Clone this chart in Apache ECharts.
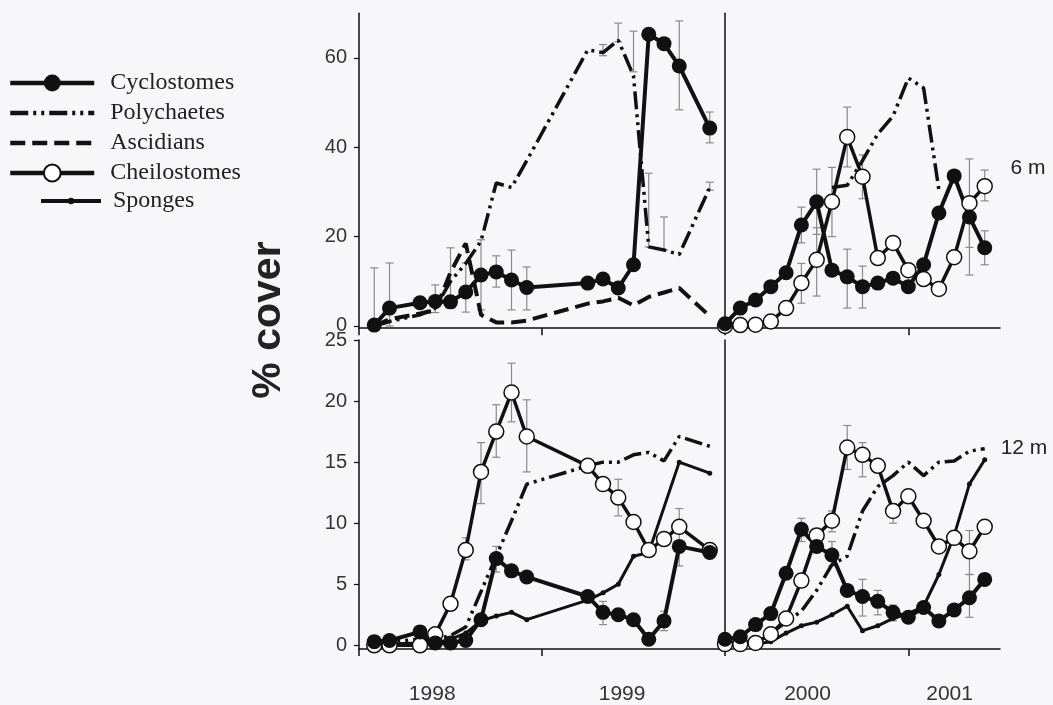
<!DOCTYPE html>
<html>
<head>
<meta charset="utf-8">
<script src="https://cdn.jsdelivr.net/npm/echarts@6/dist/echarts.min.js"></script>
<style>
  html, body { margin: 0; background: #f7f7f9; }
  #chart { width: 1053px; height: 705px; }
</style>
</head>
<body>
<div id="chart"></div>
<script>
// x = months since January of the first year of each panel
const yearLabelsLeft = ["1998", "1999"]
const yearLabelsRight = ["2000", "2001"]
const yearLabelPosLeft = [4.8, 17.25]
const yearLabelPosRight = [5.4, 14.7]
const ticks6m = [0, 20, 40, 60]
const ticks12m = [0, 5, 10, 15, 20, 25]
const depthLabels = ["6 m", "12 m"]

// 6 m, 1998-99
const cycloTL = [[1,0.2],[2,4.0],[4,5.2],[5,5.5],[6,5.4],[7,7.6],[8,11.4],[9,12.1],[10,10.3],[11,8.6],[15,9.6],[16,10.5],[17,8.5],[18,13.7],[19,65.3],[20,63.2],[21,58.2],[23,44.3]]
const polyTL = [[1,0],[2,1],[4,2.5],[5,4],[6,10],[7,14],[8,19],[9,32],[10,31],[11,37],[15,61.8],[16,61.2],[17,64],[18,56],[19,17.7],[20,17],[21,16],[23,31]]
const ascTL = [[1,0],[2,1.5],[4,2.8],[5,3.5],[6,12],[7,18.5],[8,2.5],[9,0.8],[10,0.8],[11,1.2],[15,5.0],[16,5.5],[17,6.3],[18,4.6],[19,6.5],[20,7.5],[21,8.5],[23,2.2]]
const errTL = [[1,0,13],[2,0,14.1],[5,3,9.2],[6,4,17.5],[7,3.1,14.1],[8,3.6,19.3],[9,8.7,15.7],[10,3.6,17],[11,3.6,13.2],[16,60.5,63],[17,63.6,67.8],[18,56.9,66],[19,17.7,34.2],[20,17,24.4],[21,48.4,68.3],[23,41,47.9],[23,30.4,32.2]]

// 6 m, 2000-01
const cycloTR = [[0,0.5],[1,4.0],[2,5.8],[3,8.8],[4,11.9],[5,22.6],[6,27.8],[7,12.5],[8,11.0],[9,8.8],[10,9.6],[11,10.7],[12,8.8],[13,13.7],[14,25.3],[15,33.6],[16,24.4],[17,17.5]]
const polyTR = [[7,31],[8,31.5],[9,37],[10,43],[11,47],[12,55.5],[13,53.3],[14,30.5]]
const cheiloTR = [[0,0],[1,0.2],[2,0.3],[3,1.0],[4,4.0],[5,9.6],[6,14.8],[7,27.8],[8,42.3],[9,33.4],[10,15.2],[11,18.6],[12,12.5],[13,10.5],[14,8.3],[15,15.4],[16,27.5],[17,31.3]]
const errTR = [[5,18.6,26.6],[5,5.1,14],[6,20.5,35.1],[6,6.7,22],[7,20,35.5],[8,35.6,49],[8,4,17.2],[9,28.5,38.3],[9,4,13.4],[16,17.6,37.4],[16,11.4,27],[17,28,34.9],[17,13.7,21.3]]

// 12 m, 1998-99
const cycloBL = [[1,0.3],[2,0.4],[4,1.1],[5,0.2],[6,0.2],[7,0.4],[8,2.1],[9,7.1],[10,6.1],[11,5.6],[15,4.0],[16,2.7],[17,2.5],[18,2.1],[19,0.5],[20,2.0],[21,8.1],[23,7.6]]
const polyBL = [[1,0.2],[2,0.3],[4,0.5],[5,0.5],[6,0.8],[7,1.5],[8,4.4],[9,7.3],[10,10.2],[11,13.2],[15,14.7],[16,15.0],[17,15.0],[18,15.6],[19,15.8],[20,15.1],[21,17.1],[23,16.3]]
const cheiloBL = [[1,0],[2,0],[4,0],[5,0.9],[6,3.4],[7,7.8],[8,14.2],[9,17.5],[10,20.7],[11,17.1],[15,14.7],[16,13.2],[17,12.1],[18,10.1],[19,7.8],[20,8.7],[21,9.7],[23,7.8]]
const spongeBL = [[1,0.1],[2,0.1],[4,0.2],[5,0.2],[6,0.5],[7,1.0],[8,2.0],[9,2.4],[10,2.7],[11,2.1],[15,3.7],[16,4.3],[17,5.0],[18,7.3],[19,7.6],[21,15.0],[23,14.1]]
const errBL = [[7,7.0,8.8],[8,11.6,16.6],[9,15.4,19.7],[9,6.0,8.1],[10,18.3,23.1],[11,14.2,20.1],[16,1.7,3.6],[17,10.6,13.6],[20,1.2,2.8],[21,6.5,11.2]]

// 12 m, 2000-01
const cycloBR = [[0,0.5],[1,0.7],[2,1.7],[3,2.6],[4,5.9],[5,9.5],[6,8.1],[7,7.4],[8,4.5],[9,4.0],[10,3.6],[11,2.7],[12,2.3],[13,3.1],[14,2.0],[15,2.9],[16,3.9],[17,5.4]]
const polyBR = [[3,1.0],[4,1.9],[5,2.8],[6,4.5],[7,6.6],[8,7.3],[9,11.0],[10,13.0],[11,13.9],[12,15.0],[13,13.9],[14,15.0],[15,15.1],[16,15.9],[17,16.1]]
const cheiloBR = [[0,0.1],[1,0.1],[2,0.2],[3,0.9],[4,2.2],[5,5.3],[6,9.0],[7,10.2],[8,16.2],[9,15.6],[10,14.7],[11,11.0],[12,12.2],[13,10.2],[14,8.1],[15,8.8],[16,7.7],[17,9.7]]
const spongeBR = [[0,0],[1,0],[2,0.1],[3,0.3],[4,1.0],[5,1.6],[6,1.9],[7,2.5],[8,3.2],[9,1.2],[10,1.6],[11,2.2],[12,2.6],[13,3.2],[14,5.8],[15,9.0],[16,13.2],[17,15.2]]
const errBR = [[5,8.5,10.4],[7,6.5,8.5],[7,9.3,11.0],[8,14.4,18.0],[9,13.8,16.6],[9,2.4,5.4],[10,2.5,4.5],[11,10.0,11.6],[11,2.0,3.3],[16,5.8,9.4],[16,2.3,5.8]]

const INK = "#111"
const sans = "'Liberation Sans', Arial, sans-serif"
const serif = "'Liberation Serif', 'Times New Roman', serif"

const looks = {
  Cyclostomes: { symbol: "circle", symbolSize: 15, itemStyle: { color: INK }, lineStyle: { color: INK, width: 4 } },
  Polychaetes: { symbol: "none", itemStyle: { color: INK }, lineStyle: { color: INK, width: 3.5, type: [18, 5, 3, 5, 3, 5] } },
  Ascidians: { symbol: "none", itemStyle: { color: INK }, lineStyle: { color: INK, width: 4, type: [15, 7] } },
  Cheilostomes: { symbol: "circle", symbolSize: 15, itemStyle: { color: "#fff", borderColor: INK, borderWidth: 1.5 }, lineStyle: { color: INK, width: 3.5 } },
  Sponges: { symbol: "circle", symbolSize: 5, itemStyle: { color: INK }, lineStyle: { color: INK, width: 3 } }
}

const line = (name, data, idx) => Object.assign({
  name, type: "line", data, xAxisIndex: idx, yAxisIndex: idx,
  showSymbol: looks[name].symbol !== "none", z: 3,
  emphasis: { disabled: true }
}, looks[name])

const errorBars = (data, idx) => ({
  type: "custom", xAxisIndex: idx, yAxisIndex: idx, data, z: 2, silent: true,
  encode: { x: 0, y: [1, 2] },
  renderItem: (params, api) => {
    const lo = api.coord([api.value(0), api.value(1)])
    const hi = api.coord([api.value(0), api.value(2)])
    const st = { stroke: "#8a8a8a", lineWidth: 1.2 }
    return {
      type: "group",
      children: [
        { type: "line", shape: { x1: lo[0], y1: lo[1], x2: hi[0], y2: hi[1] }, style: st },
        { type: "line", shape: { x1: hi[0] - 4, y1: hi[1], x2: hi[0] + 4, y2: hi[1] }, style: st },
        { type: "line", shape: { x1: lo[0] - 4, y1: lo[1], x2: lo[0] + 4, y2: lo[1] }, style: st }
      ]
    }
  }
})

const axisLine = { show: true, onZero: false, lineStyle: { color: INK, width: 1.5 } }

const xAxis = (idx, max, labels, labelPos, showLabels) => ({
  type: "value", gridIndex: idx, min: 0, max,
  axisLine,
  splitLine: { show: false },
  axisTick: { show: true, customValues: [0, 12], length: 7, lineStyle: { color: INK, width: 1.5 } },
  axisLabel: {
    show: showLabels, customValues: labelPos, margin: 35,
    fontFamily: sans, fontSize: 21, color: "#333",
    formatter: v => (v < 12 ? labels[0] : labels[1])
  }
})

const yAxis = (idx, min, max, ticks, showLabels) => ({
  type: "value", gridIndex: idx, min, max,
  axisLine,
  splitLine: { show: false },
  axisTick: { show: showLabels, customValues: ticks, length: 5, lineStyle: { color: INK, width: 1.2 } },
  axisLabel: { show: showLabels, customValues: ticks, margin: 12, fontFamily: sans, fontSize: 20, color: "#333" }
})

const hidden = { opacity: 0 }

const chart = echarts.init(document.getElementById("chart"))

chart.setOption({
  backgroundColor: "#f7f7f9",
  animation: false,
  grid: [
    { left: 359, top: 13.3, width: 366, height: 314.9 },
    { left: 725, top: 13.3, width: 275, height: 314.9 },
    { left: 359, top: 340, width: 366, height: 311.7 },
    { left: 725, top: 340, width: 275, height: 311.7 }
  ],
  xAxis: [
    xAxis(0, 24, yearLabelsLeft, yearLabelPosLeft, false),
    xAxis(1, 18, yearLabelsRight, yearLabelPosRight, false),
    xAxis(2, 24, yearLabelsLeft, yearLabelPosLeft, true),
    xAxis(3, 18, yearLabelsRight, yearLabelPosRight, true)
  ],
  yAxis: [
    yAxis(0, -0.5, 70, ticks6m, true),
    yAxis(1, -0.5, 70, ticks6m, false),
    yAxis(2, -0.3, 25, ticks12m, true),
    yAxis(3, -0.3, 25, ticks12m, false)
  ],
  legend: [
    {
      data: [
        { name: "Cyclostomes", lineStyle: { width: 4.5 } },
        { name: "Polychaetes", itemStyle: hidden, lineStyle: { width: 4.5 } },
        { name: "Ascidians", itemStyle: hidden, lineStyle: { width: 4.5 } },
        { name: "Cheilostomes", lineStyle: { width: 4.5 } }
      ],
      orient: "vertical", left: 8, top: 71, padding: 0,
      itemWidth: 84, itemHeight: 21, itemGap: 6,
      selectedMode: false,
      textStyle: { fontFamily: serif, fontSize: 24, color: "#222", padding: [0, 0, 0, 11] }
    },
    {
      data: [{ name: "Sponges", lineStyle: { width: 4 } }],
      orient: "vertical", left: 39, top: 189, padding: 0,
      itemWidth: 60, itemHeight: 8,
      selectedMode: false,
      textStyle: { fontFamily: serif, fontSize: 24, color: "#222", padding: [0, 0, 0, 7] }
    }
  ],
  graphic: [
    { type: "text", x: 269, y: 320, rotation: Math.PI / 2,
      style: { text: "% cover", font: "bold 41px " + sans, fill: "#222", textAlign: "center", textVerticalAlign: "middle" } },
    { type: "text", x: 1028, y: 168,
      style: { text: depthLabels[0], font: "21px " + sans, fill: "#222", textAlign: "center", textVerticalAlign: "middle" } },
    { type: "text", x: 1024, y: 448,
      style: { text: depthLabels[1], font: "21px " + sans, fill: "#222", textAlign: "center", textVerticalAlign: "middle" } }
  ],
  series: [
    errorBars(errTL, 0),
    line("Polychaetes", polyTL, 0),
    line("Ascidians", ascTL, 0),
    line("Cyclostomes", cycloTL, 0),

    errorBars(errTR, 1),
    line("Polychaetes", polyTR, 1),
    line("Cheilostomes", cheiloTR, 1),
    line("Cyclostomes", cycloTR, 1),

    errorBars(errBL, 2),
    line("Polychaetes", polyBL, 2),
    line("Sponges", spongeBL, 2),
    line("Cheilostomes", cheiloBL, 2),
    line("Cyclostomes", cycloBL, 2),

    errorBars(errBR, 3),
    line("Polychaetes", polyBR, 3),
    line("Sponges", spongeBR, 3),
    line("Cheilostomes", cheiloBR, 3),
    line("Cyclostomes", cycloBR, 3)
  ]
})
</script>
</body>
</html>
